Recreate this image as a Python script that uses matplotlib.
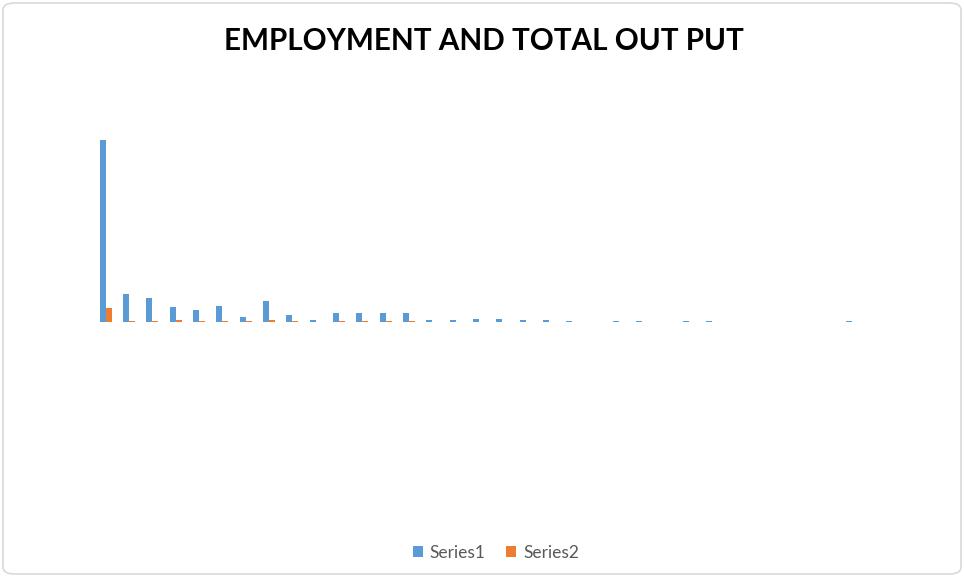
import matplotlib.pyplot as plt
import numpy as np
from matplotlib.patches import FancyBboxPatch

# valores (escala arbitraria)
categorias = list(range(1, 34))
series1 = [182, 28, 24, 15, 12, 16, 5, 21, 7, 2, 9, 9, 9, 9, 2, 2, 3, 3, 2, 2, 1.5,
           0, 1.5, 1.5, 0, 1.5, 1.5, 0, 0, 0, 0, 0, 1.5]
series2 = [14, 1, 1, 2, 1, 1, 1, 2, 1, 0, 1, 1, 1, 1, 0, 0, 0, 0, 0, 0, 0,
           0, 0, 0, 0, 0, 0, 0, 0, 0, 0, 0, 0]
nomes = ['Series1', 'Series2']
cores = ['#5B9BD5', '#ED7D31']

W, H = 964, 577
fig = plt.figure(figsize=(W / 100, H / 100), dpi=100)

# moldura arredondada estilo Excel
moldura = FancyBboxPatch((3 / W, 3 / H), 958 / W, 571 / H,
                         boxstyle='round,pad=0,rounding_size=0.012',
                         transform=fig.transFigure, facecolor='white',
                         edgecolor='#D9D9D9', linewidth=1.2, zorder=-5)
fig.patches.append(moldura)

# area do grafico em pixels: x 94..864, y 75..530 (zero em y=322)
ax = fig.add_axes([94 / W, (H - 530) / H, 770 / W, 455 / H])
ax.set_facecolor('none')
ax.set_zorder(2)

x = np.arange(len(categorias))
larg = 0.26
ax.bar(x - larg / 2, series1, larg, color=cores[0], label=nomes[0])
ax.bar(x + larg / 2, series2, larg, color=cores[1], label=nomes[1])

ax.set_xlim(-0.5, len(categorias) - 0.5)
ax.set_ylim(-208, 247)
ax.axis('off')

fig.text(484 / W, 1 - 41 / H, 'EMPLOYMENT AND TOTAL OUT PUT', ha='center', va='center',
         fontsize=21.3, fontweight='bold', family='Lato', color='black')

leg = fig.legend(loc='center', bbox_to_anchor=(496 / W, 1 - 553 / H), ncol=2,
                 frameon=False, handlelength=0.55, handleheight=0.6,
                 handletextpad=0.4, columnspacing=1.2,
                 prop={'family': 'Lato', 'size': 12.5})
for t in leg.get_texts():
    t.set_color('#595959')

fig.savefig('out.png', dpi=100)
